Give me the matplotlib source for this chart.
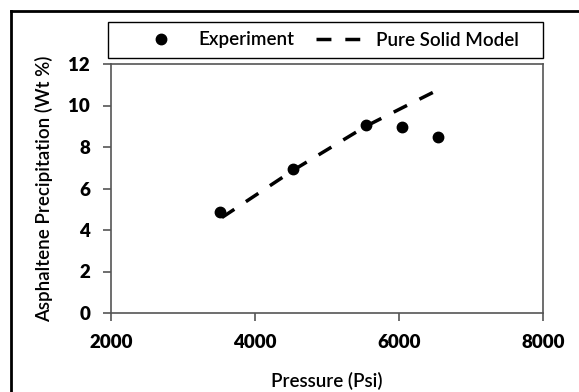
import matplotlib
matplotlib.use("Agg")
import matplotlib.pyplot as plt
from matplotlib.lines import Line2D
from matplotlib.patches import Rectangle

plt.rcParams['font.family'] = ['Lato', 'DejaVu Sans']

# experiment points
exp_pressure = [3520, 4530, 5535, 6035, 6535]
exp_precip = [4.88, 6.95, 9.08, 8.97, 8.5]

# pure solid model curve
model_pressure = [3540, 4540, 5540, 6040, 6540]
model_precip = [4.6, 6.9, 9.0, 9.88, 10.75]

x_ticks = [2000, 4000, 6000, 8000]
y_ticks = [0, 2, 4, 6, 8, 10, 12]

fig = plt.figure(figsize=(5.79, 3.92), dpi=100)
ax = fig.add_axes([111 / 579, 1 - 313 / 392, 432 / 579, 249 / 392])

ax.plot(exp_pressure, exp_precip, 'o', color='black', markersize=7.5,
        label='Experiment', zorder=3)
ax.plot(model_pressure, model_precip, color='black', linewidth=2.5,
        dashes=(4.3, 4.0), label='Pure Solid Model', zorder=2)

ax.set_xlim(2000, 8000)
ax.set_ylim(0, 12)
ax.set_xticks(x_ticks)
ax.set_yticks(y_ticks)

spine_col = '#555555'
for s in ax.spines.values():
    s.set_color(spine_col)
    s.set_linewidth(1.2)
ax.tick_params(axis='both', direction='out', length=6, width=1.2,
               color=spine_col, labelsize=13.5)
ax.tick_params(axis='x', pad=9)
ax.tick_params(axis='y', pad=9)
for lab in ax.get_xticklabels() + ax.get_yticklabels():
    lab.set_fontweight('heavy')

ax.set_xlabel('Pressure (Psi)', fontsize=13.5, fontweight='semibold',
              labelpad=15)
ax.set_ylabel('Asphaltene Precipitation (Wt %)', fontsize=13.5,
              fontweight='semibold', labelpad=11)

# legend box above the plot
box = Rectangle((108 / 579, 1 - 58 / 392), 435 / 579, 36 / 392,
                transform=fig.transFigure, fill=False, edgecolor='black',
                linewidth=1.0)
fig.patches.append(box)
handles, labels = ax.get_legend_handles_labels()
fig.legend(handles, labels, loc='center left',
           bbox_to_anchor=(122 / 579, 1 - 40 / 392), ncol=2, frameon=False,
           prop={'size': 13.5, 'weight': 'semibold'}, handlelength=2.4,
           handletextpad=0.8, columnspacing=1.1)

# outer frame (cut off on the right and bottom)
fig.add_artist(Line2D([11 / 579, 11 / 579], [0, 1 - 11 / 392],
                      transform=fig.transFigure, color='black', linewidth=2))
fig.add_artist(Line2D([11 / 579, 1], [1 - 11 / 392, 1 - 11 / 392],
                      transform=fig.transFigure, color='black', linewidth=2))

fig.savefig('out.png', dpi=100)
